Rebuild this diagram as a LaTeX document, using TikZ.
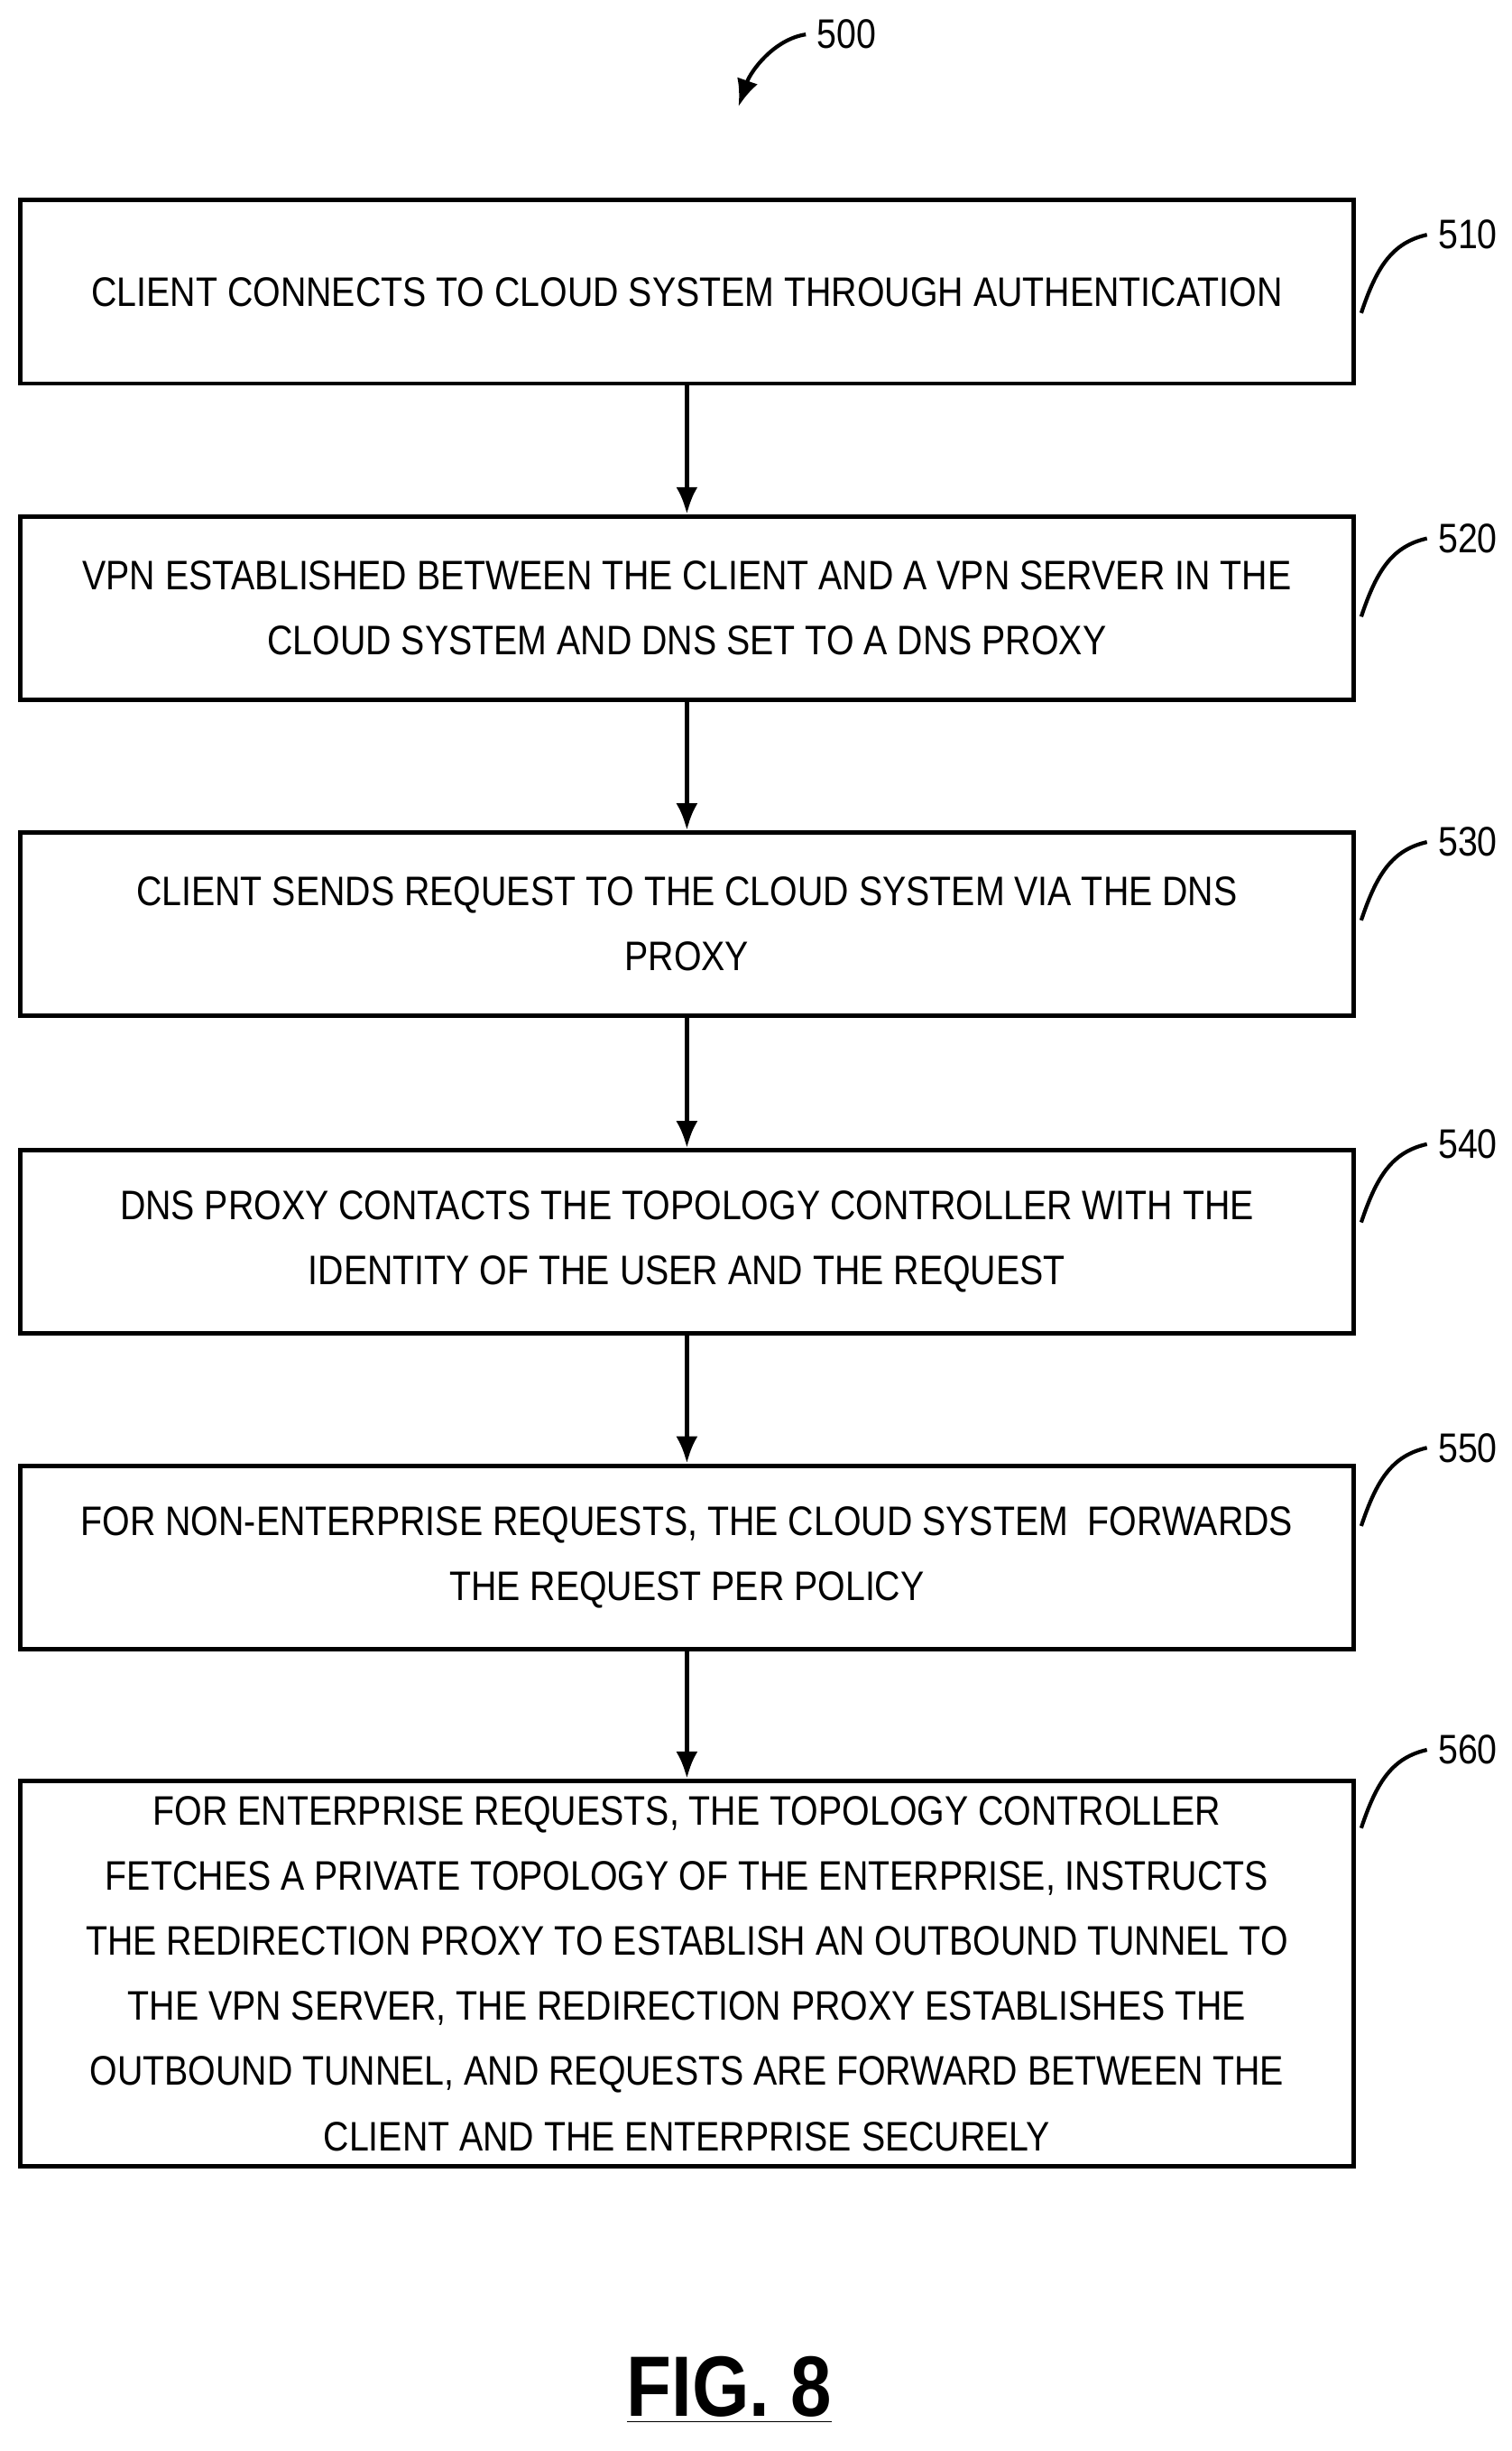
\documentclass[tikz,border=0pt]{standalone}
\usepackage{fontspec}
\setmainfont[FakeStretch=0.86]{Liberation Sans}
\usetikzlibrary{arrows.meta,positioning}
\begin{document}
\begin{tikzpicture}[x=0.01734cm,y=-0.01734cm,
  stepbox/.style={draw, line width=1.4pt, minimum width=14.77cm, align=center, font=\fontsize{13}{20.5}\selectfont, inner sep=0pt},
  reflabel/.style={font=\fontsize{13}{16}\selectfont, anchor=west},
  flow/.style={-{Latex[length=3mm,width=2.4mm]}, line width=1.4pt}]
\useasboundingbox (0,0) rectangle (966,1566);
%Boxes
\node[stepbox, minimum height=2.03cm] (s510) at (439,186.5) {CLIENT CONNECTS TO CLOUD SYSTEM THROUGH AUTHENTICATION};
\node[stepbox, minimum height=2.03cm] (s520) at (439,388.5) {VPN ESTABLISHED BETWEEN THE CLIENT AND A VPN SERVER IN THE\\ CLOUD SYSTEM AND DNS SET TO A DNS PROXY};
\node[stepbox, minimum height=2.03cm] (s530) at (439,590.5) {CLIENT SENDS REQUEST TO THE CLOUD SYSTEM VIA THE DNS\\ PROXY};
\node[stepbox, minimum height=2.03cm] (s540) at (439,793.5) {DNS PROXY CONTACTS THE TOPOLOGY CONTROLLER WITH THE\\ IDENTITY OF THE USER AND THE REQUEST};
\node[stepbox, minimum height=2.03cm] (s550) at (439,995) {FOR NON-ENTERPRISE REQUESTS, THE CLOUD SYSTEM\ \ FORWARDS\\ THE REQUEST PER POLICY};
\node[stepbox, minimum height=4.27cm] (s560) at (439,1261) {FOR ENTERPRISE REQUESTS, THE TOPOLOGY CONTROLLER\\ FETCHES A PRIVATE TOPOLOGY OF THE ENTERPRISE, INSTRUCTS\\ THE REDIRECTION PROXY TO ESTABLISH AN OUTBOUND TUNNEL TO\\ THE VPN SERVER, THE REDIRECTION PROXY ESTABLISHES THE\\ OUTBOUND TUNNEL, AND REQUESTS ARE FORWARD BETWEEN THE\\ CLIENT AND THE ENTERPRISE SECURELY};

\draw[flow] (s510) -- (s520);
\draw[flow] (s520) -- (s530);
\draw[flow] (s530) -- (s540);
\draw[flow] (s540) -- (s550);
\draw[flow] (s550) -- (s560);

%Reference numerals
\foreach \n/\y in {510/150,520/344,530/538,540/731,550/925,560/1118}{
  \node[reflabel] (l\n) at (912,\y) {\n};
  \draw[line width=1.2pt] (870,\y+50) .. controls (880,\y+20) and (890,\y+5) .. (l\n.west);
}
\node[reflabel] (l500) at (515,22) {500};
\draw[line width=1.2pt, -{Latex[length=3mm,width=2.4mm]}] (l500.west) .. controls (495,25) and (480,45) .. (472,68);

\node[font=\fontsize{27}{30}\selectfont\bfseries] (fig) at (466,1527) {\underline{FIG. 8}};
\end{tikzpicture}
\end{document}
